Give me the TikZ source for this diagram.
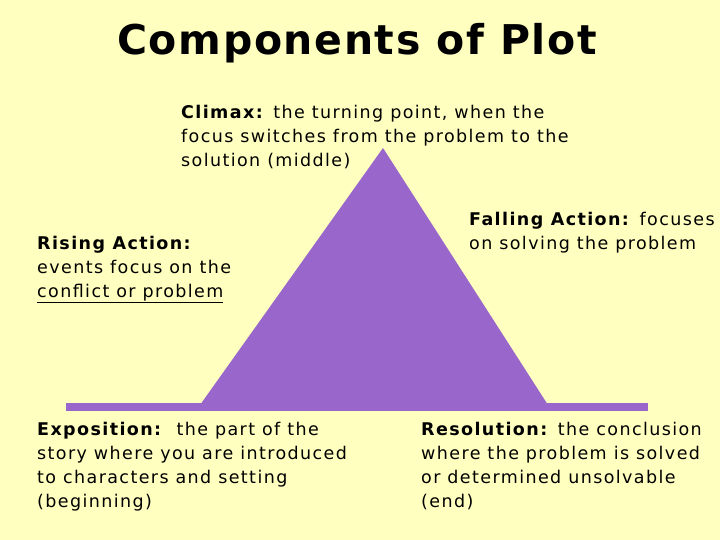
\documentclass[tikz,border=0pt]{standalone}
\usepackage{fontspec}
\setmainfont{DejaVu Sans}[LetterSpace=8]
\newfontfamily\titlefont{DejaVu Sans}[LetterSpace=4]
\definecolor{bg}{RGB}{255,255,192}
\definecolor{purp}{RGB}{153,102,204}
\begin{document}
\begin{tikzpicture}[x=1pt,y=-1pt,
  txt/.style={anchor=north west,inner sep=0pt,align=left,font=\fontsize{17.5}{24}\selectfont}]
\fill[bg] (0,0) rectangle (720,540);
\useasboundingbox (0,0) rectangle (720,540);
\fill[purp] (66,403) rectangle (648,411);
\fill[purp] (200,405) -- (383,148) -- (548,405) -- cycle;
\node[font=\titlefont\bfseries\fontsize{41}{48}\selectfont] (title) at (357,43) {Components of Plot};
\node[txt] (climax) at (181,105) {\textbf{Climax:} the turning point, when the\\focus switches from the problem to the\\solution (middle)};
\node[txt] (rising) at (37,236) {\textbf{Rising Action:}\\events focus on the\\\underline{conflict or problem}};
\node[txt] (falling) at (469,212) {\textbf{Falling Action:} focuses\\on solving the problem};
\node[txt] (expo) at (37,422) {\textbf{Exposition:}\ \ the part of the\\story where you are introduced\\to characters and setting\\(beginning)};
\node[txt] (reso) at (421,422) {\textbf{Resolution:} the conclusion\\where the problem is solved\\or determined unsolvable\\(end)};
\end{tikzpicture}
\end{document}
